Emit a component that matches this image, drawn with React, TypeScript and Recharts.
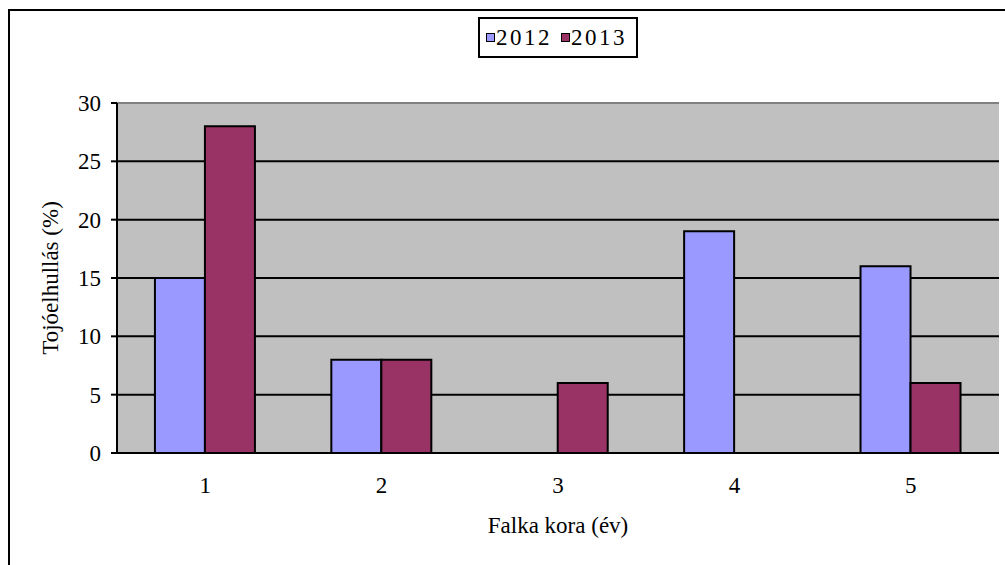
import React from "react";
import {
  BarChart,
  Bar,
  XAxis,
  YAxis,
  CartesianGrid,
  Legend,
  ReferenceLine,
  Label,
} from "recharts";

const ages = ["1", "2", "3", "4", "5"];
const loss2012 = [15, 8, 0, 19, 16];
const loss2013 = [28, 8, 6, 0, 6];
const yTicks = [0, 5, 10, 15, 20, 25, 30];
const boundaryTicks = [0, 1, 2, 3, 4, 5];

const series = [
  { key: "y2012", name: "2012", color: "#9999ff" },
  { key: "y2013", name: "2013", color: "#993366" },
];

const data = ages.map((age, i) => ({
  age,
  y2012: loss2012[i],
  y2013: loss2013[i],
}));

const FONT = "'Liberation Serif', 'Times New Roman', serif";
const tickStyle = { fill: "#000", fontSize: 23, fontFamily: FONT };

function LegendBox() {
  return (
    <div style={{ textAlign: "center" }}>
      <div
        style={{
          display: "inline-flex",
          alignItems: "center",
          height: 37,
          border: "2px solid #000",
          background: "#fff",
          paddingLeft: 6,
          paddingRight: 9,
          fontFamily: FONT,
          fontSize: 23,
          color: "#000",
        }}
      >
        {series.map((s, i) => (
          <span
            key={s.key}
            style={{ display: "inline-flex", alignItems: "center", marginLeft: i ? 9 : 0 }}
          >
            <span
              style={{
                display: "inline-block",
                boxSizing: "border-box",
                width: 9,
                height: 9,
                border: "1.5px solid #000",
                background: s.color,
                marginRight: 1,
              }}
            />
            <span style={{ letterSpacing: 2.5 }}>{s.name}</span>
          </span>
        ))}
      </div>
    </div>
  );
}

export default function App() {
  return (
    <div
      style={{
        position: "fixed",
        left: 8,
        top: 9,
        right: 0,
        bottom: 0,
        borderLeft: "2px solid #000",
        borderTop: "2px solid #000",
        background: "#fff",
      }}
    >
      <BarChart
        width={995}
        height={554}
        data={data}
        margin={{ top: 92, right: 6, bottom: 0, left: 0 }}
        barCategoryGap="21.5%"
        barGap={0}
      >
        {/* boundary ticks + axis line */}
        <XAxis
          xAxisId="num"
          type="number"
          domain={[0, 5]}
          ticks={boundaryTicks}
          tick={false}
          height={0}
          tickSize={7}
          axisLine={{ stroke: "#000", strokeWidth: 2 }}
          tickLine={{ stroke: "#000", strokeWidth: 2 }}
          allowDataOverflow
        />
        {/* category labels */}
        <XAxis
          xAxisId="cat"
          dataKey="age"
          height={112}
          axisLine={false}
          tickLine={false}
          tickSize={0}
          tickMargin={24}
          tick={tickStyle}
        >
          <Label
            value="Falka kora (év)"
            position="center"
            dy={16}
            style={{ fill: "#000", fontSize: 23, fontFamily: FONT }}
          />
        </XAxis>
        <YAxis
          width={107}
          domain={[0, 30]}
          ticks={yTicks}
          interval={0}
          tickSize={6}
          tickMargin={10}
          tick={tickStyle}
          axisLine={{ stroke: "#000", strokeWidth: 2 }}
          tickLine={{ stroke: "#000", strokeWidth: 2 }}
        >
          <Label
            value="Tojóelhullás (%)"
            angle={-90}
            position="center"
            dx={-14}
            style={{ fill: "#000", fontSize: 23, fontFamily: FONT }}
          />
        </YAxis>
        <CartesianGrid
          xAxisId="num"
          vertical={false}
          stroke="#000"
          strokeWidth={2}
          fill="#c0c0c0"
          fillOpacity={1}
        />
        <ReferenceLine xAxisId="num" y={30} stroke="#808080" strokeWidth={2} />
        <ReferenceLine xAxisId="num" x={5} stroke="#808080" strokeWidth={2} />
        <Legend
          verticalAlign="middle"
          align="center"
          wrapperStyle={{ top: 6, left: 107, width: 882 }}
          content={() => <LegendBox />}
        />
        {series.map((s) => (
          <Bar
            key={s.key}
            xAxisId="cat"
            dataKey={s.key}
            name={s.name}
            fill={s.color}
            stroke="#000"
            strokeWidth={2}
            isAnimationActive={false}
          />
        ))}
      </BarChart>
    </div>
  );
}
